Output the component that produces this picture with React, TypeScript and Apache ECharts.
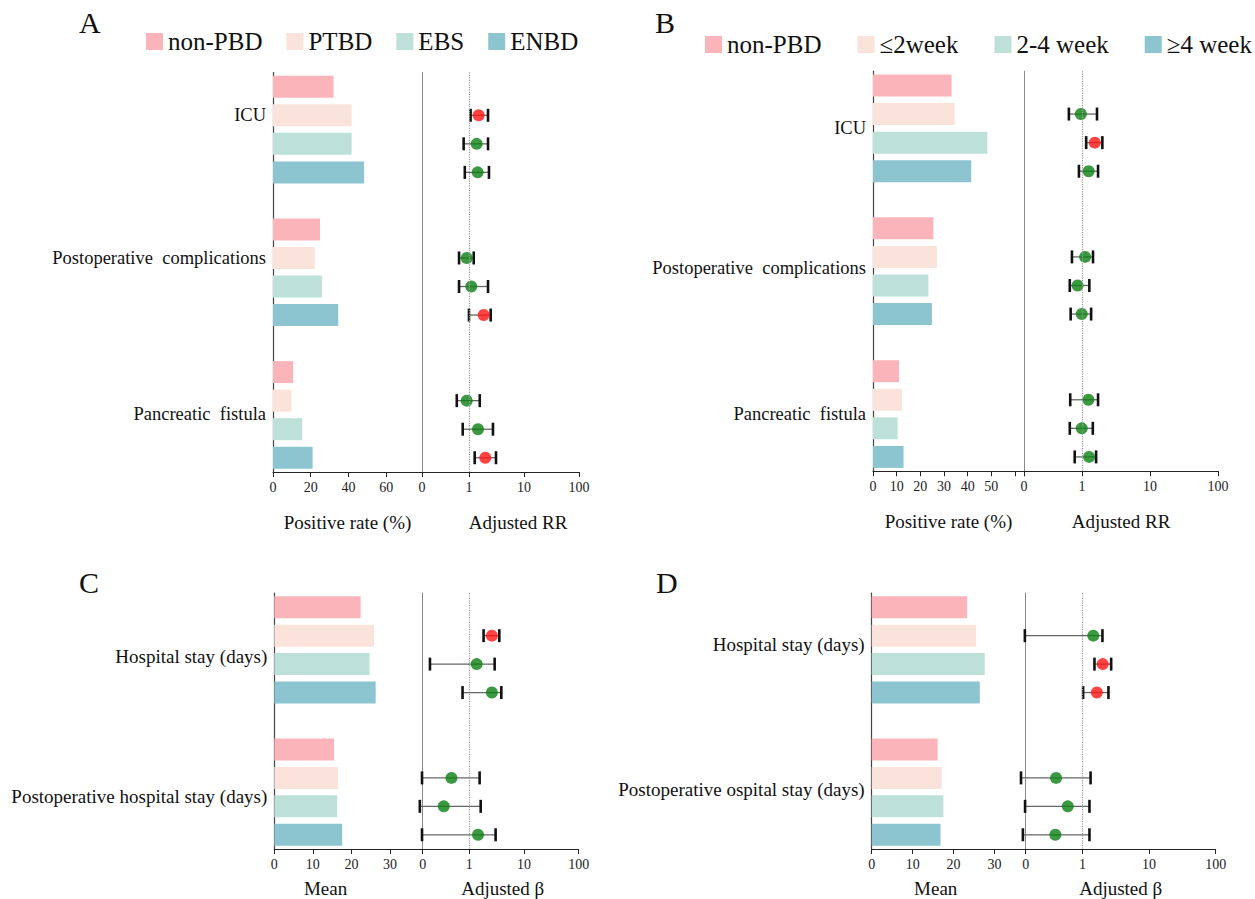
import { useEffect, useRef } from "react";
import * as echarts from "echarts";

// ---------- data ----------
const seriesNamesAC = ["non-PBD", "PTBD", "EBS", "ENBD"];
const seriesNamesBD = ["non-PBD", "≤2week", "2-4 week", "≥4 week"];
const barColors = ["#FBB4B9", "#F9E3DA", "#BDE1D8", "#8CC5D0"];
const sigColor = "#FF1414";
const nsColor = "#0A7F13";

const outcomesAB = ["ICU", "Postoperative  complications", "Pancreatic  fistula"];
const outcomesC = ["Hospital stay (days)", "Postoperative hospital stay (days)"];
const outcomesD = ["Hospital stay (days)", "Postoperative ospital stay (days)"];

// bar values: [outcome][group]
const rateA = [
  [32.1, 41.7, 41.7, 48.3],
  [24.9, 22.2, 25.9, 34.6],
  [10.7, 9.8, 15.5, 21.0],
];
const rateB = [
  [33.2, 34.5, 48.3, 41.5],
  [25.5, 27.0, 23.4, 24.9],
  [11.0, 12.2, 10.4, 12.9],
];
const meanC = [
  [22.4, 25.9, 24.7, 26.3],
  [15.5, 16.5, 16.3, 17.6],
];
const meanD = [
  [23.3, 25.5, 27.6, 26.4],
  [16.1, 17.1, 17.5, 16.8],
];

// forest values: [outcome][group 2..4 vs non-PBD]
const rrA = [[1.5, 1.38, 1.44], [0.91, 1.1, 1.85], [0.91, 1.46, 1.98]];
const rrA_lo = [[1.07, 0.8, 0.84], [0.66, 0.66, 1.0], [0.6, 0.77, 1.27]];
const rrA_hi = [[2.22, 2.22, 2.31], [1.22, 2.22, 2.48], [1.57, 2.73, 3.1]];
const rrA_sig = [[1, 0, 0], [0, 0, 1], [0, 0, 1]];

const rrB = [[0.96, 1.54, 1.25], [1.11, 0.86, 0.99], [1.24, 0.99, 1.27]];
const rrB_lo = [[0.64, 1.15, 0.9], [0.71, 0.66, 0.68], [0.67, 0.66, 0.78]];
const rrB_hi = [[1.66, 1.99, 1.72], [1.45, 1.28, 1.36], [1.72, 1.44, 1.61]];
const rrB_sig = [[0, 1, 0], [0, 0, 0], [0, 0, 0]];

const betaC = [[2.58, 1.36, 2.58], [0.47, 0.34, 1.44]];
const betaC_lo = [[1.82, 0.19, 0.75], [0.136, 0.124, 0.136]];
const betaC_hi = [[3.53, 2.9, 3.84], [1.54, 1.61, 3.02]];
const betaC_sig = [[1, 0, 0], [0, 0, 0]];

const betaD = [[1.45, 2.01, 1.64], [0.4, 0.6, 0.39]];
const betaD_lo = [[0.136, 1.51, 1.02], [0.119, 0.137, 0.127]];
const betaD_hi = [[1.99, 2.69, 2.45], [1.32, 1.27, 1.27]];
const betaD_sig = [[0, 1, 1], [0, 0, 0]];

const forestTicks = [0.14, 1, 10, 100];

// ---------- layout ----------
const FONT = "Liberation Serif, Times New Roman, serif";
const ROW_PREFIX = "__row";

const panels = [
  {
    letter: "A", lx: 90, ly: 22,
    outcomes: outcomesAB, names: seriesNamesAC, bars: rateA,
    est: rrA, lo: rrA_lo, hi: rrA_hi, sig: rrA_sig,
    top: 72.5, height: 399.5,
    barLeft: 273, barWidth: 149, barMax: 79, barInterval: 20, barLabelMax: 60,
    forestLeft: 422, forestWidth: 157,
    barTitle: "Positive rate (%)", forestTitle: "Adjusted RR",
    nameGap: 41, barTitlePad: [0, 0, 0, 0], forestTitlePad: [0, 0, 0, 35],
    labelShift: [1, 3, 13], labelSize: 18.5,
  },
  {
    letter: "B", lx: 666, ly: 22,
    outcomes: outcomesAB, names: seriesNamesBD, bars: rateB,
    est: rrB, lo: rrB_lo, hi: rrB_hi, sig: rrB_sig,
    top: 71.2, height: 400,
    barLeft: 873, barWidth: 151, barMax: 63.8, barInterval: 10, barLabelMax: 50,
    forestLeft: 1024, forestWidth: 194,
    barTitle: "Positive rate (%)", forestTitle: "Adjusted RR",
    nameGap: 41, barTitlePad: [0, 0, 0, 0], forestTitlePad: [0, 0, 0, 0],
    labelShift: [14, 11, 14], labelSize: 18.5,
  },
  {
    letter: "C", lx: 90, ly: 582,
    outcomes: outcomesC, names: seriesNamesAC, bars: meanC,
    est: betaC, lo: betaC_lo, hi: betaC_hi, sig: betaC_sig,
    top: 593, height: 256.5,
    barLeft: 274.3, barWidth: 148.4, barMax: 38.5, barInterval: 10, barLabelMax: 30,
    forestLeft: 422.7, forestWidth: 156,
    barTitle: "Mean", forestTitle: "Adjusted β",
    nameGap: 30, barTitlePad: [0, 46, 0, 0], forestTitlePad: [0, 0, 0, 4],
    labelShift: [21, 19], labelSize: 19,
  },
  {
    letter: "D", lx: 667, ly: 582,
    outcomes: outcomesD, names: seriesNamesBD, bars: meanD,
    est: betaD, lo: betaD_lo, hi: betaD_hi, sig: betaD_sig,
    top: 593, height: 256,
    barLeft: 871.7, barWidth: 154, barMax: 37.6, barInterval: 10, barLabelMax: 30,
    forestLeft: 1025.7, forestWidth: 190,
    barTitle: "Mean", forestTitle: "Adjusted β",
    nameGap: 30, barTitlePad: [0, 26, 0, 0], forestTitlePad: [0, 0, 0, 0],
    labelShift: [9, 12], labelSize: 19,
  },
];

function buildOption() {
  const grid: any[] = [];
  const xAxis: any[] = [];
  const yAxis: any[] = [];
  const series: any[] = [];
  const graphic: any[] = [];

  panels.forEach((p, pi) => {
    const G = p.outcomes.length;
    const rows = G * 5 - 1;
    const barIdx = pi * 2;
    const forIdx = pi * 2 + 1;

    grid.push({ left: p.barLeft, top: p.top, width: p.barWidth, height: p.height, containLabel: false });
    grid.push({ left: p.forestLeft, top: p.top, width: p.forestWidth, height: p.height, containLabel: false });

    const cats: any[] = [];
    for (let r = 0; r < rows; r++) {
      const g = Math.floor(r / 5);
      if (r % 5 === 1) {
        const d = p.labelShift[g] || 0;
        cats.push(
          d >= 5
            ? { value: p.outcomes[g], textStyle: { verticalAlign: "top", lineHeight: 2 * d } }
            : { value: p.outcomes[g] }
        );
      } else {
        cats.push({ value: ROW_PREFIX + r });
      }
    }

    const tickFont = { fontSize: 14, fontFamily: FONT, color: "#222" };
    const titleFont = { fontSize: 19, fontFamily: FONT, color: "#111" };

    xAxis.push({
      type: "value", gridIndex: barIdx, min: 0, max: p.barMax, interval: p.barInterval,
      axisLine: { show: true, lineStyle: { color: "#222", width: 1 } },
      axisTick: { show: true, length: 5, lineStyle: { color: "#222" } },
      splitLine: { show: false },
      axisLabel: {
        ...tickFont, margin: 8,
        formatter: (v: number) => (v <= p.barLabelMax + 0.001 && Math.abs(v % p.barInterval) < 0.001 ? String(v) : ""),
      },
      name: p.barTitle, nameLocation: "middle", nameGap: p.nameGap,
      nameTextStyle: { ...titleFont, padding: p.barTitlePad },
    });
    xAxis.push({
      type: "log", logBase: 10, gridIndex: forIdx, min: forestTicks[0], max: forestTicks[3],
      axisLine: { show: true, lineStyle: { color: "#222", width: 1 } },
      axisTick: { show: true, length: 5, lineStyle: { color: "#222" } },
      splitLine: { show: false },
      minorTick: { show: false },
      axisLabel: {
        ...tickFont, margin: 8,
        showMinLabel: true, showMaxLabel: true,
        formatter: (v: number) => (v < 0.5 ? "0" : String(Math.round(v))),
      },
      name: p.forestTitle, nameLocation: "middle", nameGap: p.nameGap,
      nameTextStyle: { ...titleFont, padding: p.forestTitlePad },
    });

    yAxis.push({
      type: "category", gridIndex: barIdx, inverse: true, data: cats,
      axisLine: { show: true, lineStyle: { color: "#444", width: 1.2 } },
      axisTick: { show: false },
      axisLabel: {
        interval: 0, fontSize: p.labelSize, fontFamily: FONT, color: "#111", margin: 7,
        formatter: (v: string) => (v.indexOf(ROW_PREFIX) === 0 ? "" : v),
      },
    });
    yAxis.push({
      type: "category", gridIndex: forIdx, inverse: true, data: cats.map((c) => c.value),
      axisLine: { show: true, lineStyle: { color: "#8a8a8a", width: 1 } },
      axisTick: { show: false },
      axisLabel: { show: false },
    });

    // bars
    p.names.forEach((name, s) => {
      const data: any[] = new Array(rows).fill(null);
      for (let g = 0; g < G; g++) data[g * 5 + s] = p.bars[g][s];
      series.push({
        type: "bar", name, xAxisIndex: barIdx, yAxisIndex: barIdx, data,
        barWidth: 22, barGap: "-100%", itemStyle: { color: barColors[s] },
        silent: true,
      });
    });

    // error bars and estimates
    const ebData: any[] = [];
    const ptData: any[] = [];
    for (let g = 0; g < G; g++) {
      for (let k = 0; k < 3; k++) {
        const row = g * 5 + k + 1;
        ebData.push([p.lo[g][k], p.hi[g][k], row]);
        ptData.push({ value: [p.est[g][k], row], itemStyle: { color: p.sig[g][k] ? sigColor : nsColor } });
      }
    }
    series.push({
      type: "custom", name: "ci" + pi, xAxisIndex: forIdx, yAxisIndex: forIdx,
      data: ebData, encode: { x: [0, 1], y: 2 }, silent: true, clip: false, z: 3,
      renderItem: (_params: any, api: any) => {
        const y = api.value(2);
        const a = api.coord([api.value(0), y]);
        const b = api.coord([api.value(1), y]);
        const h = 6.5;
        return {
          type: "group",
          children: [
            { type: "line", shape: { x1: a[0], y1: a[1], x2: b[0], y2: b[1] }, style: { stroke: "#666", lineWidth: 1.3 } },
            { type: "line", shape: { x1: a[0], y1: a[1] - h, x2: a[0], y2: a[1] + h }, style: { stroke: "#111", lineWidth: 2.6 } },
            { type: "line", shape: { x1: b[0], y1: b[1] - h, x2: b[0], y2: b[1] + h }, style: { stroke: "#111", lineWidth: 2.6 } },
          ],
        };
      },
    });
    series.push({
      type: "scatter", name: "pt" + pi, xAxisIndex: forIdx, yAxisIndex: forIdx,
      data: ptData, symbolSize: 12, z: 4, silent: true,
      markLine: {
        silent: true, symbol: ["none", "none"], label: { show: false },
        lineStyle: { type: "dotted", color: "#9a9a9a", width: 1.2 },
        data: [{ xAxis: 1 }],
      },
    });

    graphic.push({
      type: "text", left: p.lx - 11, top: p.ly - 15,
      style: { text: p.letter, font: `30px ${FONT}`, fill: "#111" },
    });
  });

  return {
    animation: false,
    backgroundColor: "#fff",
    textStyle: { fontFamily: FONT },
    grid, xAxis, yAxis, series, graphic,
    legend: [
      {
        data: seriesNamesAC, left: 141, top: 24, width: 500, itemWidth: 17, itemHeight: 17, itemGap: 24,
        icon: "rect", selectedMode: false,
        textStyle: { fontSize: 25, fontFamily: FONT, color: "#111" },
      },
      {
        data: seriesNamesBD, left: 700, top: 27, width: 560, itemWidth: 17, itemHeight: 17, itemGap: 36,
        icon: "rect", selectedMode: false,
        textStyle: { fontSize: 25, fontFamily: FONT, color: "#111" },
      },
    ],
  };
}

export default function App() {
  const ref = useRef<HTMLDivElement>(null);
  useEffect(() => {
    if (!ref.current) return;
    const chart = echarts.init(ref.current, undefined, { renderer: "svg" });
    chart.setOption(buildOption() as any);
    return () => chart.dispose();
  }, []);
  return (
    <div
      ref={ref}
      style={{ position: "absolute", left: 0, top: 0, width: 1255, height: 899, background: "#fff" }}
    />
  );
}
